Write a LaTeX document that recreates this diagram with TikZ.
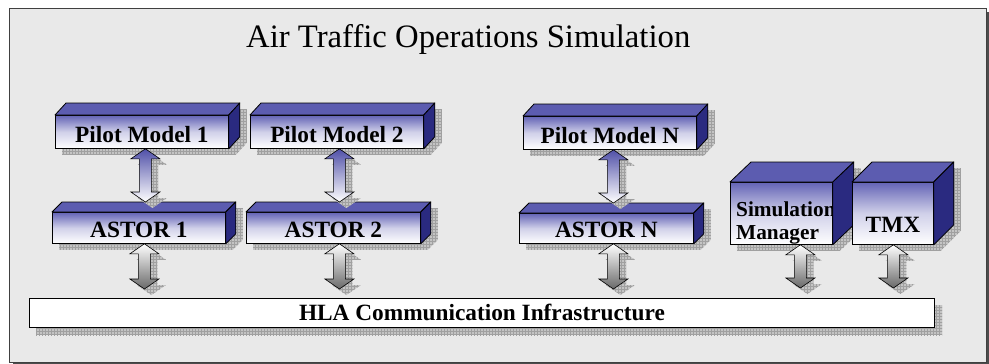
\documentclass[tikz,border=0pt]{standalone}
\usepackage{fontspec}
\setmainfont{Liberation Serif}
\usetikzlibrary{calc,patterns,shadings}
\pgfdeclarelayer{bgl}
\pgfdeclarelayer{shl}
\pgfsetlayers{bgl,shl,main}

\definecolor{bgc}{RGB}{233,233,233}
\definecolor{topc}{RGB}{92,92,176}
\definecolor{sidec}{RGB}{42,42,128}
\definecolor{frontc}{RGB}{100,100,182}
\definecolor{shc}{RGB}{196,196,196}
\definecolor{gridc}{RGB}{160,160,160}
\definecolor{arrb}{RGB}{80,80,168}
\definecolor{arrg}{RGB}{105,105,105}

\tikzset{
  shadowsty/.style={fill=shc, postaction={pattern=grid, pattern color=gridc}},
  frontbox/.style={draw=black, line width=0.8pt, top color=frontc, bottom color=white,
    middle color=frontc!30!white, inner sep=0pt, anchor=north west,
    font=\fontsize{23.3}{28}\selectfont\bfseries, text height=20pt, text depth=0pt},
  topface/.style={draw=black, line width=0.8pt, fill=topc, line join=round},
  sideface/.style={draw=black, line width=0.8pt, fill=sidec, line join=round},
  uparr/.style={draw=black, line width=0.6pt, top color=arrb, bottom color=white},
  lowarr/.style={draw=black, line width=0.6pt, top color=white, bottom color=arrg},
}

\newcommand\cubefaces[3]{%
  \begin{pgfonlayer}{shl}
    \path[shadowsty] ($(#1.south west)+(7,6)$) -- ($(#1.north west)+(7,6)$)
      -- ($(#1.north west)+(#2+7,6-#3)$) -- ($(#1.north east)+(#2+7,6-#3)$)
      -- ($(#1.south east)+(#2+7,6-#3)$) -- ($(#1.south east)+(7,6)$) -- cycle;
  \end{pgfonlayer}
  \draw[topface] (#1.north west) -- ($(#1.north west)+(#2,-#3)$)
    -- ($(#1.north east)+(#2,-#3)$) -- (#1.north east) -- cycle;
  \draw[sideface] (#1.north east) -- ($(#1.north east)+(#2,-#3)$)
    -- ($(#1.south east)+(#2,-#3)$) -- (#1.south east) -- cycle;
}

\newcommand\blockarrow[3]{%
  \path[shadowsty] let \p1=(#2), \p2=(#3) in
    (\x1+7pt,\y1-6pt) -- (\x1+21.5pt,\y1-16pt) -- (\x1+13pt,\y1-16pt)
    -- (\x1+13pt,\y2+4pt) -- (\x1+21.5pt,\y2+4pt) -- (\x1+7pt,\y2-6pt)
    -- (\x1-7.5pt,\y2+4pt) -- (\x1+1pt,\y2+4pt) -- (\x1+1pt,\y1-16pt)
    -- (\x1-7.5pt,\y1-16pt) -- cycle;
  \draw[#1] let \p1=(#2), \p2=(#3) in
    (\x1,\y1) -- (\x1+14.5pt,\y1-10pt) -- (\x1+6pt,\y1-10pt)
    -- (\x1+6pt,\y2+10pt) -- (\x1+14.5pt,\y2+10pt) -- (\x1,\y2)
    -- (\x1-14.5pt,\y2+10pt) -- (\x1-6pt,\y2+10pt) -- (\x1-6pt,\y1-10pt)
    -- (\x1-14.5pt,\y1-10pt) -- cycle;
}

\begin{document}
\begin{tikzpicture}[x=1pt,y=-1pt]
\useasboundingbox (0,0) rectangle (989,364);
\begin{pgfonlayer}{bgl}
  \fill[white] (0,0) rectangle (989,364);
  \fill[black!70] (13,12) rectangle (989,365);
  \draw[fill=bgc, draw=black!75, line width=1pt] (9,8) rectangle (986,362);
\end{pgfonlayer}

\node[anchor=base west, inner sep=0pt, font=\fontsize{32.7}{39}\selectfont] (title) at (246,47) {Air Traffic Operations Simulation};

% pilot models
\node[frontbox, minimum width=173pt, minimum height=33pt, text height=21pt] (p1) at (55,115) {Pilot Model 1};
\cubefaces{p1}{11}{12}
\node[frontbox, minimum width=173pt, minimum height=33pt, text height=21pt] (p2) at (250,115) {Pilot Model 2};
\cubefaces{p2}{11}{12}
\node[frontbox, minimum width=173pt, minimum height=33pt, text height=21pt] (pn) at (523,116) {Pilot Model N};
\cubefaces{pn}{11}{12}

% astors
\node[frontbox, minimum width=173pt, minimum height=31pt, text height=19pt] (a1) at (52,212) {ASTOR 1};
\cubefaces{a1}{10}{10}
\node[frontbox, minimum width=174pt, minimum height=31pt, text height=19pt] (a2) at (246,212) {ASTOR 2};
\cubefaces{a2}{10}{10}
\node[frontbox, minimum width=174pt, minimum height=30pt, text height=18pt] (an) at (519,213) {ASTOR N};
\cubefaces{an}{10}{10}

% simulation manager and TMX
\node[frontbox, minimum width=102pt, minimum height=62pt] (sm) at (730,182) {};
\cubefaces{sm}{21}{20}
\begin{scope}
  \clip (sm.south west) rectangle (sm.north east);
  \node[anchor=north west, inner sep=0pt, align=left, font=\fontsize{21.3}{23}\selectfont\bfseries] (smtext) at (736,202) {Simulation\\Manager};
\end{scope}
\node[frontbox, minimum width=81pt, minimum height=62pt, text height=38pt] (tmx) at (852,182) {TMX};
\cubefaces{tmx}{20}{20}

% HLA bar
\node[draw=black, line width=1pt, fill=white, inner sep=0pt, anchor=north west,
  minimum width=905pt, minimum height=29pt, text height=15.5pt, text depth=0pt,
  font=\fontsize{23.3}{28}\selectfont\bfseries] (hla) at (29,298) {HLA Communication Infrastructure};
\begin{pgfonlayer}{shl}
  \path[shadowsty] ($(hla.south west)+(7,7)$) rectangle ($(hla.north east)+(7,7)$);
\end{pgfonlayer}

% arrows pilot <-> astor
\blockarrow{uparr}{$(p1.south)+(3.5,0)$}{$(a1.north)+(0,-10)$}
\blockarrow{uparr}{$(p2.south)+(2.5,0)$}{$(a2.north)+(0,-10)$}
\blockarrow{uparr}{$(pn.south)+(3.5,0)$}{$(an.north)+(0,-10)$}

% arrows to HLA
\blockarrow{lowarr}{$(a1.south)+(5.5,0)$}{$(hla.north)+(0,-9)$}
\blockarrow{lowarr}{$(a2.south)+(6,0)$}{$(hla.north)+(0,-9)$}
\blockarrow{lowarr}{$(an.south)+(7,0)$}{$(hla.north)+(0,-9)$}
\blockarrow{lowarr}{$(sm.south)+(19,0)$}{$(hla.north)+(0,-10)$}
\blockarrow{lowarr}{$(tmx.south)+(0.5,0)$}{$(hla.north)+(0,-10)$}
\end{tikzpicture}
\end{document}
